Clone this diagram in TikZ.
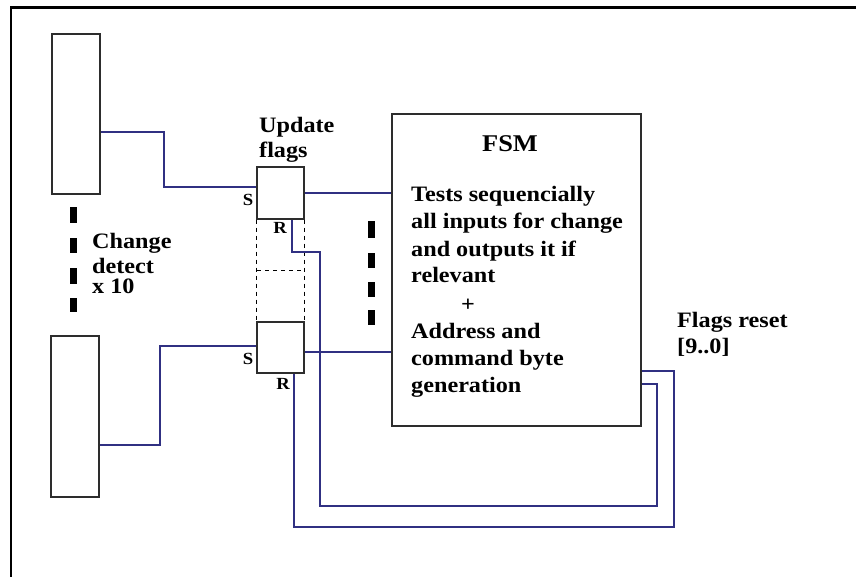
\documentclass[tikz,border=0pt]{standalone}
\usepackage{fontspec}
\setmainfont{Liberation Serif}[FakeStretch=1.1]
\definecolor{boxgray}{RGB}{45,45,45}
\definecolor{wireblue}{RGB}{48,48,130}
\begin{document}
\begin{tikzpicture}[x=1pt,y=-1pt,
  box/.style={draw=boxgray, line width=1.3pt, inner sep=0pt, fill=white},
  wire/.style={draw=wireblue, line width=1.1pt},
  dashline/.style={draw=black, line width=0.8pt, dash pattern=on 4pt off 4pt},
  txt/.style={font=\bfseries\fontsize{22}{27}\selectfont, inner sep=0pt, text=black, anchor=base west},
  lbl/.style={font=\bfseries\fontsize{17}{20}\selectfont, inner sep=0pt, text=black},
  blob/.style={fill=black}]
\useasboundingbox (0,0) rectangle (856,577);
% outer frame (top and left edges)
\draw[line width=2.5pt, black] (11,577) -- (11,7.5) -- (856,7.5);

% change detect blocks
\node[box, minimum width=48pt, minimum height=160pt] (cdA) at (76,114) {};
\node[box, minimum width=48pt, minimum height=161pt] (cdB) at (75,416.5) {};

% update flag blocks
\node[box, minimum width=47pt, minimum height=52pt] (ffA) at (280.5,193) {};
\node[box, minimum width=47pt, minimum height=51pt] (ffB) at (280.5,347.5) {};

% FSM
\node[box, minimum width=249pt, minimum height=312pt] (fsm) at (516.5,270) {};

% dashed flag placeholders
\draw[dashline] (ffA.south west) -- (ffB.north west);
\draw[dashline] (ffA.south east) -- (ffB.north east);
\draw[dashline] (257,270) -- (304,270);

% thick dash columns
\foreach \a/\b in {207/223, 238/253, 268/284, 298/312}
  \fill[blob] (70,\a) rectangle (77,\b);
\foreach \a/\b in {221/238, 253/268, 282/297, 310/325}
  \fill[blob] (368,\a) rectangle (375,\b);

% wires
\draw[wire] ([yshift=-18pt]cdA.east) -| (164,187) -- ([yshift=6pt]ffA.west);
\draw[wire] (ffA.east) -- (ffA.east -| fsm.west);
\draw[wire] ([yshift=-28.5pt]cdB.east) -| (160,346) -- ([yshift=1.5pt]ffB.west);
\draw[wire] ([yshift=-4.5pt]ffB.east) -- ([yshift=-4.5pt]ffB.east -| fsm.west);
\draw[wire] ([xshift=11.5pt]ffA.south) -- (292,252) -- (320,252) -- (320,506) -- (657,506) -- (657,384) -- ([yshift=-114pt]fsm.east);
\draw[wire] ([xshift=13.5pt]ffB.south) -- (294,527) -- (674,527) -- (674,371) -- ([yshift=-101pt]fsm.east);

% texts
\node[txt] (cd1) at (92,249) {Change};
\node[txt] (cd2) at (92,273) {detect};
\node[txt] (cd3) at (92,293) {x 10};
\node[txt] (up1) at (259,133) {Update};
\node[txt] (up2) at (259,158) {flags};
\node[lbl] (sA) at (248,200) {S};
\node[lbl] (rA) at (280,228) {R};
\node[lbl] (sB) at (248,359) {S};
\node[lbl] (rB) at (283,384) {R};
\node[font=\bfseries\fontsize{24}{28}\selectfont, inner sep=0pt, anchor=base] (fsmt) at (510,152) {FSM};
\node[txt] (f1) at (411,202) {Tests sequencially};
\node[txt] (f2) at (411,229) {all inputs for change};
\node[txt] (f3) at (411,256) {and outputs it if};
\node[txt] (f4) at (411,283) {relevant};
\node[txt, anchor=center] (f5) at (468,305) {+};
\node[txt] (f6) at (411,338) {Address and};
\node[txt] (f7) at (411,365) {command byte};
\node[txt] (f8) at (411,392) {generation};
\node[txt] (fr1) at (677,327) {Flags reset};
\node[txt] (fr2) at (677,353) {[9..0]};
\end{tikzpicture}
\end{document}
